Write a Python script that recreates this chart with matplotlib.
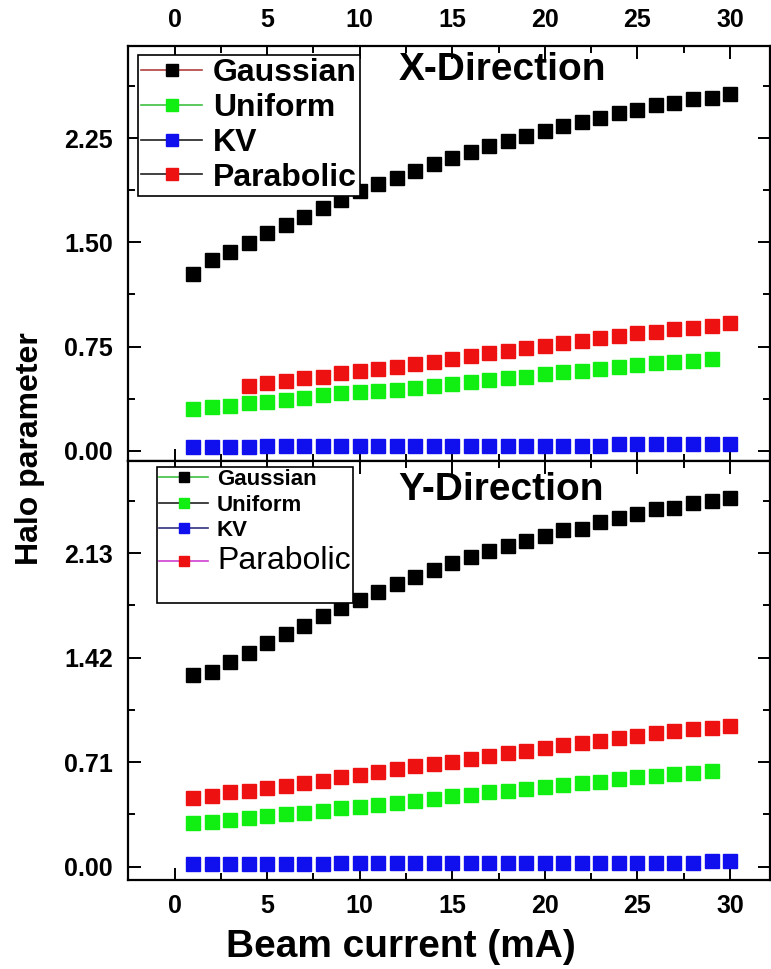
import matplotlib
matplotlib.use("Agg")
import matplotlib.pyplot as plt
from matplotlib.lines import Line2D
from matplotlib.ticker import MultipleLocator, AutoMinorLocator

plt.rcParams['font.family'] = ['Liberation Sans', 'DejaVu Sans']
plt.rcParams['font.weight'] = 'bold'

# beam current (mA)
current = list(range(1, 31))
current_uni = list(range(1, 30))
current_par_x = list(range(4, 31))

# X-direction halo parameter
gauss_x = [1.269, 1.372, 1.432, 1.497, 1.564, 1.624, 1.684, 1.744, 1.804, 1.869,
           1.919, 1.967, 2.015, 2.063, 2.111, 2.152, 2.193, 2.231, 2.265, 2.303,
           2.339, 2.368, 2.397, 2.428, 2.452, 2.488, 2.500, 2.529, 2.543, 2.565]
uni_x = [0.300, 0.312, 0.324, 0.341, 0.353, 0.365, 0.377, 0.401, 0.413, 0.420,
         0.429, 0.437, 0.449, 0.465, 0.480, 0.497, 0.509, 0.521, 0.533, 0.552,
         0.564, 0.576, 0.585, 0.605, 0.617, 0.629, 0.636, 0.645, 0.657]
kv_x = [0.028, 0.028, 0.030, 0.030, 0.031, 0.031, 0.031, 0.031, 0.032, 0.032,
        0.032, 0.033, 0.033, 0.033, 0.034, 0.034, 0.034, 0.035, 0.035, 0.036,
        0.036, 0.037, 0.037, 0.045, 0.046, 0.046, 0.046, 0.047, 0.047, 0.047]
par_x = [0.465, 0.485, 0.501, 0.521, 0.533, 0.557, 0.576, 0.585, 0.605, 0.624,
         0.641, 0.660, 0.681, 0.701, 0.717, 0.737, 0.756, 0.773, 0.792, 0.809,
         0.828, 0.845, 0.857, 0.873, 0.885, 0.900, 0.917]

# Y-direction halo parameter
gauss_y = [1.302, 1.325, 1.393, 1.450, 1.518, 1.579, 1.638, 1.703, 1.755, 1.812,
           1.869, 1.921, 1.971, 2.016, 2.061, 2.106, 2.145, 2.179, 2.215, 2.249,
           2.288, 2.294, 2.340, 2.371, 2.396, 2.430, 2.439, 2.469, 2.485, 2.503]
uni_y = [0.294, 0.306, 0.317, 0.328, 0.344, 0.356, 0.367, 0.378, 0.396, 0.408,
         0.419, 0.435, 0.448, 0.458, 0.480, 0.487, 0.505, 0.514, 0.528, 0.539,
         0.555, 0.566, 0.578, 0.596, 0.607, 0.616, 0.630, 0.639, 0.652]
kv_y = [0.016, 0.016, 0.017, 0.017, 0.017, 0.018, 0.018, 0.018, 0.027, 0.027,
        0.028, 0.028, 0.027, 0.023, 0.023, 0.023, 0.023, 0.023, 0.024, 0.024,
        0.024, 0.024, 0.024, 0.024, 0.025, 0.025, 0.025, 0.026, 0.039, 0.039]
par_y = [0.469, 0.482, 0.505, 0.516, 0.532, 0.548, 0.566, 0.584, 0.607, 0.623,
         0.646, 0.661, 0.684, 0.698, 0.713, 0.732, 0.754, 0.775, 0.788, 0.804,
         0.827, 0.838, 0.854, 0.872, 0.888, 0.911, 0.922, 0.933, 0.945, 0.958]

labels = ['Gaussian', 'Uniform', 'KV', 'Parabolic']
colors = ['#000000', '#11ee11', '#1010ee', '#ee1111']
yticks_x = [0.0, 0.75, 1.50, 2.25]
yticks_y = [0.0, 0.71, 1.42, 2.13]

W, H = 771, 969
fig = plt.figure(figsize=(W / 100, H / 100), dpi=100)
ax1 = fig.add_axes([128 / W, 1 - 461 / H, 642 / W, 415 / H])
ax2 = fig.add_axes([128 / W, 1 - 880 / H, 642 / W, 419 / H])

ms = 9.5
ax1.plot(current, gauss_x, 's', color=colors[0], ms=ms)
ax1.plot(current_uni, uni_x, 's', color=colors[1], ms=ms)
ax1.plot(current, kv_x, 's', color=colors[2], ms=ms)
ax1.plot(current_par_x, par_x, 's', color=colors[3], ms=ms)

ax2.plot(current, gauss_y, 's', color=colors[0], ms=ms)
ax2.plot(current_uni, uni_y, 's', color=colors[1], ms=ms)
ax2.plot(current, kv_y, 's', color=colors[2], ms=ms)
ax2.plot(current, par_y, 's', color=colors[3], ms=ms)

ax1.set_ylim(-0.074, 2.914)
ax2.set_ylim(-0.090, 2.756)
for ax, yt in [(ax1, yticks_x), (ax2, yticks_y)]:
    ax.set_xlim(-2.52, 32.16)
    ax.xaxis.set_major_locator(MultipleLocator(5))
    ax.xaxis.set_minor_locator(MultipleLocator(2.5))
    ax.set_yticks(yt)
    ax.set_yticklabels(['%.2f' % v for v in yt])
    ax.yaxis.set_minor_locator(AutoMinorLocator(2))
    ax.tick_params(which='both', direction='in', top=True, right=True,
                   width=1.4, labelsize=18)
    ax.tick_params(which='major', length=9)
    ax.tick_params(which='minor', length=5)
    ax.tick_params(axis='y', pad=11)
    for s in ax.spines.values():
        s.set_linewidth(1.6)

ax1.tick_params(axis='x', labeltop=True, labelbottom=False, pad=10)
ax2.tick_params(axis='x', labeltop=False, labelbottom=True, pad=10)

fig.text(502 / W, 1 - 70 / H, 'X-Direction', fontsize=28, ha='center', va='center')
fig.text(501 / W, 1 - 490 / H, 'Y-Direction', fontsize=28, ha='center', va='center')
fig.text(30 / W, 1 - 449 / H, 'Halo parameter', fontsize=23, rotation=90,
         ha='center', va='center')
fig.text(401 / W, 1 - 947 / H, 'Beam current (mA)', fontsize=28,
         ha='center', va='center')

# legends
top_lines = ['#b04040', '#40c040', '#202020', '#202020']
h1 = [Line2D([], [], color=lc, lw=1.2, marker='s', ms=9, mfc=c, mec=c)
      for lc, c in zip(top_lines, colors)]
leg1 = ax1.legend(h1, labels, loc='upper left',
                  bbox_to_anchor=(138 / W, 1 - 55 / H), bbox_transform=fig.transFigure,
                  fancybox=False, edgecolor='black', framealpha=1,
                  borderpad=0.1, borderaxespad=0, handlelength=1.9,
                  handletextpad=0.35, labelspacing=0.15,
                  prop=dict(weight='bold', size=23))
leg1.get_frame().set_linewidth(1.2)

bot_lines = ['#40c040', '#202020', '#303080', '#d040d0']
h2 = [Line2D([], [], color=lc, lw=1.2, marker='s', ms=7, mfc=c, mec=c)
      for lc, c in zip(bot_lines, colors)]
h2.append(Line2D([], [], linestyle='none'))
leg2 = ax2.legend(h2, labels + [' '], loc='upper left',
                  bbox_to_anchor=(157 / W, 1 - 467 / H), bbox_transform=fig.transFigure,
                  fancybox=False, edgecolor='black', framealpha=1,
                  borderpad=0.1, borderaxespad=0, handlelength=2.2,
                  handletextpad=0.4, labelspacing=0.2,
                  prop=dict(weight='bold', size=16))
leg2.get_frame().set_linewidth(1.2)
leg2.get_texts()[3].set_fontsize(23)
leg2.get_texts()[3].set_fontweight('normal')

fig.savefig('out.png', dpi=100)
